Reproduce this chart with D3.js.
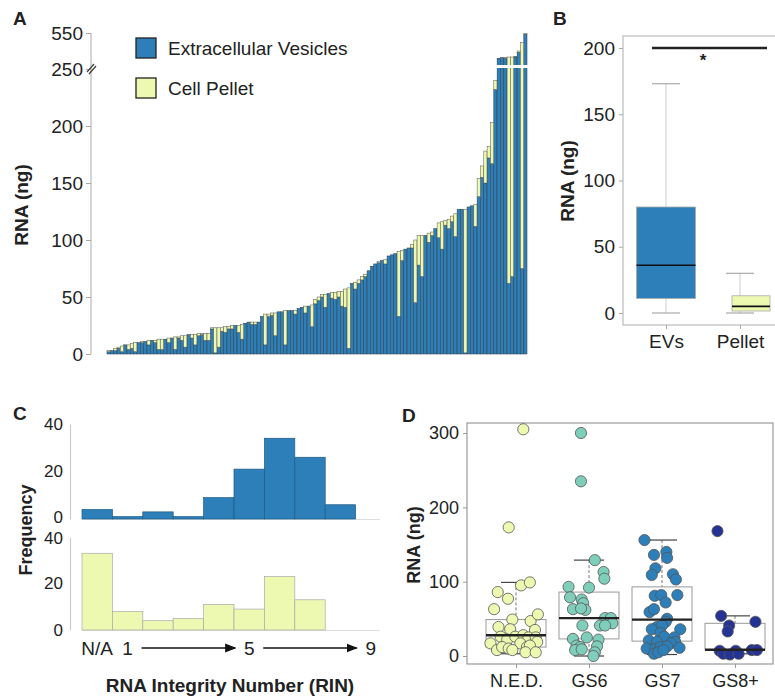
<!DOCTYPE html>
<html><head><meta charset="utf-8">
<script src="https://cdn.jsdelivr.net/npm/d3@7/dist/d3.min.js"></script>
<style>
body{margin:0;background:#fff}
svg{display:block}
text{font-family:"Liberation Sans",Arial,Helvetica,sans-serif;fill:#222}
</style>
</head><body>
<svg id="fig" width="775" height="698"></svg>
<script>
// ---------- Panel A data (per sample, sorted by total) ----------
const evRNA = [2,3,3,5,2,8,4,5,2,10,10,11,8,12,10,4,4,13,10,14,4,14,12,6,17,14,8,16,17,12,12,
  22,1,6,20,19,22,22,25,19,13,27,28,26,26,28,
  33,8,33,34,16,37,37,8,38,38,35,40,41,36,42,24,
  44,47,50,41,53,49,48,50,42,41,5,62,57,
  62,65,68,73,77,79,80,82,79,86,87,
  88,33,82,92,93,93,45,78,68,104,98,104,
  110,102,92,113,110,116,103,127,127,1,129,130,112,
  138,155,150,172,167,232,
  335,345,340,62,68,350,390,75,540];
const totalRNA = [3,3,5,6,7,8,8,9,10,10,11,11,12,12,12,13,13,13,14,14,15,15,16,16,17,17,17,18,18,18,18,
  23,23,23,23,24,24,25,25,25,26,27,28,28,28,28,
  33,35,35,36,36,37,37,38,38,38,38,40,41,42,42,43,
  48,50,52,52,53,54,54,55,55,57,58,62,63,
  65,68,70,73,77,79,81,82,83,86,87,
  88,90,91,92,93,96,100,104,104,104,106,107,
  110,115,116,117,118,121,123,127,127,127,129,130,131,
  154,165,178,182,203,240,
  340,345,345,350,350,355,400,470,545];
const pelletRNA = totalRNA.map((t,i)=>t-evRNA[i]);
const ticksA = [0,50,100,150,200,250,550];
const legendA = ["Extracellular Vesicles","Cell Pellet"];

// ---------- Panel B ----------
const groupsB = ["EVs","Pellet"];
const statsB = [
  {lo:0, q1:11, med:36, q3:80, hi:173},
  {lo:0, q1:1.5, med:5, q3:13, hi:30}
];
const ticksB = [0,50,100,150,200];

// ---------- Panel C ----------
const rinBins = ["N/A","1","2","3","4","5","6","7","8","9"];
const rinEV = [4,1,3,1,9,21,34,26,6,0];
const rinPellet = [33,8,4,5,11,9,23,13,0,0];
const ticksC = [0,20,40];
const rinLabels = ["N/A","1","5","9"];

// ---------- Panel D ----------
const gleason = ["N.E.D.","GS6","GS7","GS8+"];
const statsD = [
  {lo:3, q1:12, med:28, q3:49, hi:99},
  {lo:0, q1:23, med:51, q3:86, hi:129},
  {lo:2, q1:20, med:49, q3:93, hi:156},
  {lo:3, q1:8.5, med:8.5, q3:44, hi:54}
];
const nedRNA = [305,173,95,99,86,77,63,49,39,36,47,56,35,26,22,26,28,25,25,19,17,8,12,10,17,12,14,5,5,8];
const nedJit = [0.10,-0.10,0.07,0.19,-0.25,-0.11,-0.30,-0.05,-0.24,-0.08,0.20,0.30,0.26,-0.21,-0.12,-0.01,0.10,0.17,0.27,0.29,-0.35,-0.26,-0.19,-0.10,0.06,0.15,0.19,0.13,0.27,-0.05];
const gs6RNA = [300,235,129,113,104,93,92,79,76,71,62,63,64,51,51,44,41,41,41,23,25,22,14,12,13,8,9,5,0];
const gs6Jit = [-0.11,-0.11,0.08,0.20,0.21,-0.28,0.00,-0.26,-0.10,-0.08,-0.05,-0.22,-0.11,0.22,0.30,0.32,-0.09,0.15,0.22,-0.22,-0.03,0.13,-0.17,-0.12,0.11,-0.19,-0.10,0.08,0.06];
const gs7RNA = [156,136,140,132,118,109,110,103,81,82,82,72,59,63,50,46,39,41,36,36,31,26,25,19,21,19,17,11,10,10,12,13,3,5,8];
const gs7Jit = [-0.24,-0.11,0.06,0.07,-0.09,-0.14,0.15,0.19,-0.10,-0.01,0.21,0.05,-0.17,-0.11,0.07,0.05,-0.07,0.00,-0.14,0.25,-0.02,0.03,0.17,0.18,-0.18,-0.07,0.12,0.24,-0.21,-0.09,-0.02,0.07,-0.11,-0.05,0.02];
const gs8RNA = [168,54,41,46,33,7,7,8,8,3,2,3];
const gs8Jit = [-0.24,-0.19,-0.08,0.28,-0.10,-0.21,0.01,0.23,0.30,-0.16,-0.07,0.05];
const ticksD = [0,100,200,300];

// ---------- styles ----------
const BLUE = "#2c7fb8", YEL = "#edf8b1";
const colD = ["#edf8b1","#7fcdbb","#2c7fb8","#253494"];
const AX = "#aaa";

const svg = d3.select("#fig");

function panelLabel(t,x,y){
  svg.append("text").attr("x",x).attr("y",y).attr("font-size",19).attr("font-weight","bold").text(t);
}
function yTitle(t,x,y,fs){
  svg.append("text").attr("transform",`translate(${x},${y}) rotate(-90)`)
    .attr("text-anchor","middle").attr("font-size",fs).attr("font-weight","bold").text(t);
}

// ================= Panel A =================
{
  const gA = svg.append("g");
  const x = d3.scaleBand().domain(d3.range(totalRNA.length)).range([107,527]).paddingInner(0.04);
  const y = d3.scaleLinear().domain([0,250,550]).range([354,69,33]);
  const bars = gA.append("g");
  bars.selectAll("rect.ev").data(evRNA).join("rect")
    .attr("x",(d,i)=>x(i)).attr("width",x.bandwidth())
    .attr("y",d=>y(d)).attr("height",d=>y(0)-y(d))
    .attr("fill",BLUE).attr("stroke","#2a3a45").attr("stroke-width",0.5);
  bars.selectAll("rect.pel").data(pelletRNA).join("rect")
    .attr("x",(d,i)=>x(i)).attr("width",x.bandwidth())
    .attr("y",(d,i)=>y(totalRNA[i])).attr("height",(d,i)=>y(evRNA[i])-y(totalRNA[i]))
    .attr("fill",YEL).attr("stroke","#555").attr("stroke-width",0.5)
    .attr("display",d=>d>0?null:"none");
  // axis break gap
  gA.append("rect").attr("x",x(0)).attr("width",x.range()[1]-x(0)+1)
    .attr("y",y(250)-4).attr("height",3).attr("fill","#fff");
  // axis
  const axis = d3.axisLeft(y).tickValues(ticksA).tickSize(5).tickPadding(3);
  const ga = gA.append("g").attr("transform","translate(91,0)").call(axis);
  ga.select(".domain").attr("stroke",AX).attr("d",`M-0,${y(550)}V${y(0)}`);
  ga.selectAll(".tick line").attr("stroke",AX);
  ga.selectAll(".tick text").attr("font-size",19).attr("fill","#222")
    .attr("font-family","Liberation Sans, Arial, sans-serif");
  // break marks
  ga.append("path").attr("d",`M-4,${y(250)+3}L3,${y(250)-5}M-2,${y(250)+5}L5,${y(250)-3}`)
    .attr("stroke","#444").attr("stroke-width",1.3);
  yTitle("RNA (ng)",28,205,19);
  // legend
  const lg = gA.append("g");
  legendA.forEach((t,i)=>{
    lg.append("rect").attr("x",136).attr("y",38+i*40).attr("width",20).attr("height",20)
      .attr("fill",i?YEL:BLUE).attr("stroke","#222").attr("stroke-width",1.3);
    lg.append("text").attr("x",168).attr("y",55+i*40).attr("font-size",19).text(t);
  });
  panelLabel("A",13,25);
}

// ================= Panel B =================
{
  const g = svg.append("g");
  const x = d3.scalePoint().domain(groupsB).range([666,740]);
  const y = d3.scaleLinear().domain([0,200]).range([313,48]);
  g.append("rect").attr("x",623).attr("y",36).attr("width",160).attr("height",289)
    .attr("fill","none").attr("stroke","#bbb").attr("stroke-width",1.2);
  const ax = g.append("g").attr("transform","translate(623,0)")
    .call(d3.axisLeft(y).tickValues(ticksB).tickSize(4).tickPadding(4));
  ax.select(".domain").remove();
  ax.selectAll(".tick line").attr("stroke",AX);
  ax.selectAll(".tick text").attr("font-size",19).attr("fill","#222");
  const bx = g.append("g").attr("transform","translate(0,325)")
    .call(d3.axisBottom(x).tickSize(4).tickPadding(6));
  bx.select(".domain").remove();
  bx.selectAll(".tick line").attr("stroke",AX);
  bx.selectAll(".tick text").attr("font-size",19).attr("fill","#222");
  const fills=[BLUE,YEL];
  const halfL=[29.5,8], halfR=[29.5,30];
  statsB.forEach((s,i)=>{
    const cx=x(groupsB[i]);
    g.append("line").attr("x1",cx).attr("x2",cx).attr("y1",y(s.hi)).attr("y2",y(s.q3)).attr("stroke","#ccc");
    g.append("line").attr("x1",cx).attr("x2",cx).attr("y1",y(s.q1)).attr("y2",y(s.lo)).attr("stroke","#ccc");
    [s.hi,s.lo].forEach(v=>g.append("line").attr("x1",cx-14).attr("x2",cx+14).attr("y1",y(v)).attr("y2",y(v)).attr("stroke","#999"));
    g.append("rect").attr("x",cx-halfL[i]).attr("width",halfL[i]+halfR[i])
      .attr("y",y(s.q3)).attr("height",y(s.q1)-y(s.q3))
      .attr("fill",fills[i]).attr("stroke","#aaa").attr("stroke-width",0.8);
    g.append("line").attr("x1",cx-halfL[i]).attr("x2",cx+halfR[i]).attr("y1",y(s.med)).attr("y2",y(s.med))
      .attr("stroke","#111").attr("stroke-width",1.6);
  });
  g.append("line").attr("x1",652).attr("x2",767).attr("y1",y(200)).attr("y2",y(200))
    .attr("stroke","#222").attr("stroke-width",2.6);
  g.append("text").attr("x",703).attr("y",66).attr("text-anchor","middle").attr("font-size",17).attr("font-weight","bold").text("*");
  yTitle("RNA (ng)",574,181,19);
  panelLabel("B",553,25);
}

// ================= Panel C =================
{
  const g = svg.append("g");
  const x = d3.scaleBand().domain(rinBins).range([82,386]).padding(0);
  const y1 = d3.scaleLinear().domain([0,40]).range([519,424]);
  const y2 = d3.scaleLinear().domain([0,40]).range([630,537]);
  [[y1,rinEV,BLUE,"#1f5a85",-1.5],[y2,rinPellet,YEL,"#aaa",1.5]].forEach(([y,data,fill,st,nud])=>{
    g.append("line").attr("x1",82).attr("x2",380).attr("y1",y(0)+0.5).attr("y2",y(0)+0.5).attr("stroke","#ddd").attr("stroke-width",1.2);
    g.selectAll(null).data(data).join("rect")
      .attr("x",(d,i)=>x(rinBins[i])).attr("width",x.bandwidth())
      .attr("y",d=>y(d)).attr("height",d=>y(0)-y(d))
      .attr("fill",fill).attr("stroke",st).attr("stroke-width",0.7)
      .attr("display",d=>d>0?null:"none");
    const ax = g.append("g").attr("transform","translate(70,0)")
      .call(d3.axisLeft(y).tickValues(ticksC).tickSize(0).tickPadding(7));
    ax.select(".domain").attr("stroke","#ccc").attr("stroke-width",1.2);
    ax.selectAll(".tick text").attr("font-size",17).attr("fill","#222");
    // keep the adjoining "0" / "40" labels of the two stacked panels apart
    ax.selectAll(".tick text").filter(d=>(nud<0&&d===0)||(nud>0&&d===40)).attr("dy",`calc(0.32em + ${nud}px)`)
      .attr("transform",`translate(0,${nud})`).attr("dy","0.32em");
  });
  const lab = g.append("g");
  rinLabels.forEach(t=>{
    lab.append("text").attr("x",x(t)+x.bandwidth()/2).attr("y",655)
      .attr("text-anchor","middle").attr("font-size",19).text(t);
  });
  const defs = svg.append("defs");
  defs.append("marker").attr("id","arr").attr("viewBox","0 0 10 10").attr("refX",9).attr("refY",5)
    .attr("markerWidth",7).attr("markerHeight",7).attr("orient","auto")
    .append("path").attr("d","M0,1L10,5L0,9z").attr("fill","#111");
  [["1","5"],["5","9"]].forEach(([a,b])=>{
    g.append("line").attr("x1",x(a)+x.bandwidth()/2+14).attr("x2",x(b)+x.bandwidth()/2-14)
      .attr("y1",648).attr("y2",648).attr("stroke","#111").attr("stroke-width",1.6).attr("marker-end","url(#arr)");
  });
  g.append("text").attr("x",230).attr("y",692).attr("text-anchor","middle").attr("font-size",19)
    .attr("font-weight","bold").text("RNA Integrity Number (RIN)");
  yTitle("Frequency",32,530,18);
  panelLabel("C",13,420);
}

// ================= Panel D =================
{
  const g = svg.append("g");
  const x = d3.scalePoint().domain(gleason).range([516,735]);
  const step = x.step();
  const y = d3.scaleLinear().domain([0,300]).range([656,433]);
  g.append("rect").attr("x",467).attr("y",423).attr("width",306).attr("height",241)
    .attr("fill","none").attr("stroke","#999").attr("stroke-width",1.2);
  const ax = g.append("g").attr("transform","translate(467,0)")
    .call(d3.axisLeft(y).tickValues(ticksD).tickSize(4).tickPadding(4));
  ax.select(".domain").remove();
  ax.selectAll(".tick line").attr("stroke","#999");
  ax.selectAll(".tick text").attr("font-size",18).attr("fill","#222");
  const bx = g.append("g").attr("transform","translate(0,664)")
    .call(d3.axisBottom(x).tickSize(4).tickPadding(6));
  bx.select(".domain").remove();
  bx.selectAll(".tick line").attr("stroke","#999");
  bx.selectAll(".tick text").attr("font-size",18).attr("fill","#222");
  const hw = 30;
  statsD.forEach((s,i)=>{
    const cx = x(gleason[i]);
    g.append("line").attr("x1",cx).attr("x2",cx).attr("y1",y(s.hi)).attr("y2",y(s.q3))
      .attr("stroke","#777").attr("stroke-dasharray","3,2");
    g.append("line").attr("x1",cx).attr("x2",cx).attr("y1",y(s.q1)).attr("y2",y(s.lo))
      .attr("stroke","#777").attr("stroke-dasharray","3,2");
    [s.hi,s.lo].forEach(v=>g.append("line").attr("x1",cx-15).attr("x2",cx+15).attr("y1",y(v)).attr("y2",y(v)).attr("stroke","#444").attr("stroke-width",1.2));
    g.append("rect").attr("x",cx-hw).attr("width",2*hw).attr("y",y(s.q3)).attr("height",y(s.q1)-y(s.q3))
      .attr("fill","none").attr("stroke","#999").attr("stroke-width",1);
  });
  const pts = [[nedRNA,nedJit],[gs6RNA,gs6Jit],[gs7RNA,gs7Jit],[gs8RNA,gs8Jit]];
  pts.forEach(([vals,jit],i)=>{
    g.selectAll(null).data(vals).join("circle")
      .attr("cx",(d,k)=>x(gleason[i])+jit[k]*step).attr("cy",d=>y(d)).attr("r",5.6)
      .attr("fill",colD[i]).attr("stroke","#555").attr("stroke-width",0.8);
  });
  statsD.forEach((s,i)=>{
    const cx = x(gleason[i]);
    g.append("line").attr("x1",cx-hw).attr("x2",cx+hw).attr("y1",y(s.med)).attr("y2",y(s.med))
      .attr("stroke","#222").attr("stroke-width",2.4);
  });
  yTitle("RNA (ng)",420,545,18);
  panelLabel("D",402,422);
}
</script>
</body></html>
